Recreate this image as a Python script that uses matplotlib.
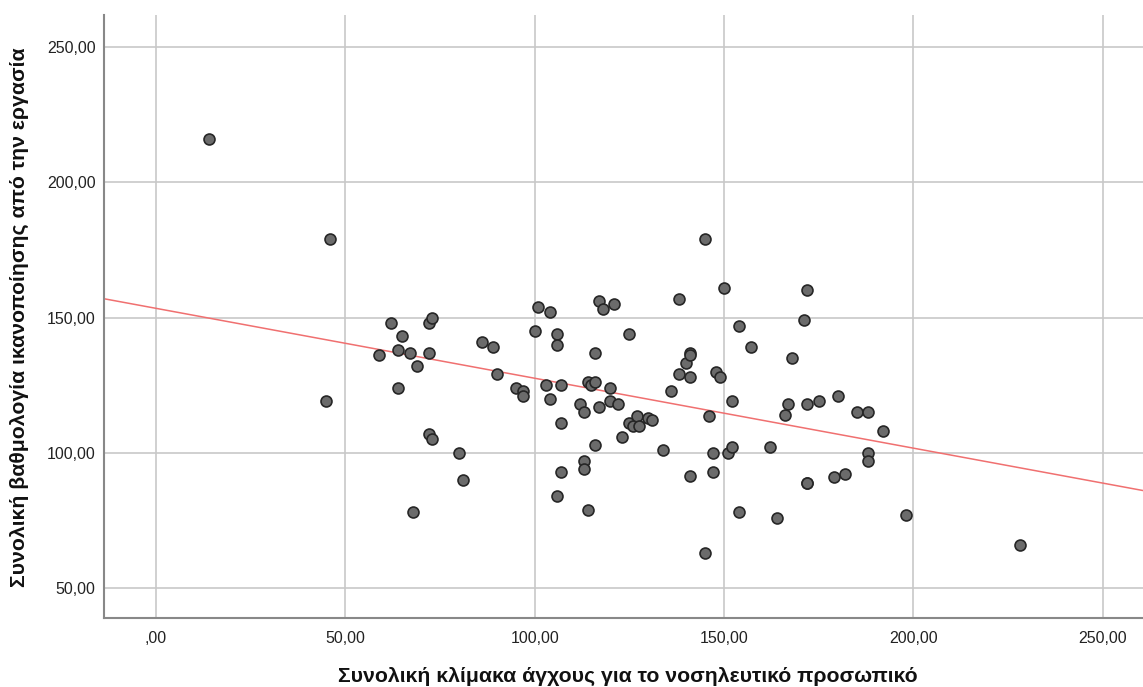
import matplotlib.pyplot as plt
import numpy as np

# stress scale total (x) vs job satisfaction total (y)
stress = [14, 46, 45, 59, 62, 64, 65, 64, 67, 69, 72, 73, 72, 72, 73, 68, 80, 81,
          86, 89, 90, 95, 97, 97, 100, 101, 104, 103, 104, 106, 106, 107, 107, 107,
          106, 112, 113, 114, 115, 113, 113, 114, 116, 116, 117, 116, 117, 118, 121,
          120, 120, 122, 123, 125, 125, 126, 127, 127.5, 130, 131, 134, 136, 138, 138,
          140, 141, 141, 141, 141, 145, 145, 146, 147, 147, 148, 149, 150, 151, 152,
          152, 154, 154, 157, 162, 164, 166, 167, 168, 171, 172, 172, 172, 172, 175,
          179, 180, 182, 185, 188, 188, 188, 192, 198, 228]
satisfaction = [216, 179, 119, 136, 148, 138, 143, 124, 137, 132, 148, 150, 137, 107,
                105, 78, 100, 90, 141, 139, 129, 124, 123, 121, 145, 154, 152, 125, 120,
                144, 140, 125, 111, 93, 84, 118, 115, 126, 125, 97, 94, 79, 137, 126,
                117, 103, 156, 153, 155, 124, 119, 118, 106, 144, 111, 110, 113.5, 110,
                113, 112, 101, 123, 129, 157, 133, 137, 136, 128, 91.5, 179, 63, 113.5,
                100, 93, 130, 128, 161, 100, 119, 102, 147, 78, 139, 102, 76, 114, 118,
                135, 149, 160, 89, 89, 118, 119, 91, 121, 92, 115, 115, 100, 97, 108,
                77, 66]

# SPSS fit line (total)
fit_slope = -0.2585
fit_icpt = 153.4

xticks = [0, 50, 100, 150, 200, 250]
xticklabels = [",00", "50,00", "100,00", "150,00", "200,00", "250,00"]
yticks = [50, 100, 150, 200, 250]
yticklabels = ["50,00", "100,00", "150,00", "200,00", "250,00"]

plt.rcParams["font.family"] = ["Liberation Sans", "DejaVu Sans"]

fig = plt.figure(figsize=(11.43, 6.87), dpi=100)
ax = fig.add_axes([0.091, 0.1004, 0.909, 0.8776])

xmin, xmax = -13.7, 260.6
ax.set_xlim(xmin, xmax)
ax.set_ylim(38.9, 261.8)

ax.set_xticks(xticks)
ax.set_xticklabels(xticklabels)
ax.set_yticks(yticks)
ax.set_yticklabels(yticklabels)
ax.tick_params(length=0, labelsize=11.5, colors="#222222")
ax.tick_params(axis="x", pad=9)
ax.tick_params(axis="y", pad=6)

ax.grid(True, color="#c8c8c8", linewidth=1.2)
ax.set_axisbelow(True)
for s in ["top", "right"]:
    ax.spines[s].set_visible(False)
for s in ["left", "bottom"]:
    ax.spines[s].set_color("#888888")
    ax.spines[s].set_linewidth(1.5)

lx = np.array([xmin, xmax])
ax.plot(lx, fit_icpt + fit_slope * lx, color="#f07070", linewidth=1.1, zorder=2)

ax.scatter(stress, satisfaction, s=62, facecolor="#6b6b6b", edgecolor="#262626",
           linewidth=1.2, zorder=3)

ax.set_xlabel("Συνολική κλίμακα άγχους για το νοσηλευτικό προσωπικό",
              fontsize=15.3, fontweight="bold", color="#111111", va="baseline")
ax.xaxis.set_label_coords(0.504, -0.106)
ax.set_ylabel("Συνολική βαθμολογία ικανοποίησης από την εργασία",
              fontsize=15.3, fontweight="bold", color="#111111", va="center")
ax.yaxis.set_label_coords(-0.081, 0.499)

fig.savefig("out.png", dpi=100)
